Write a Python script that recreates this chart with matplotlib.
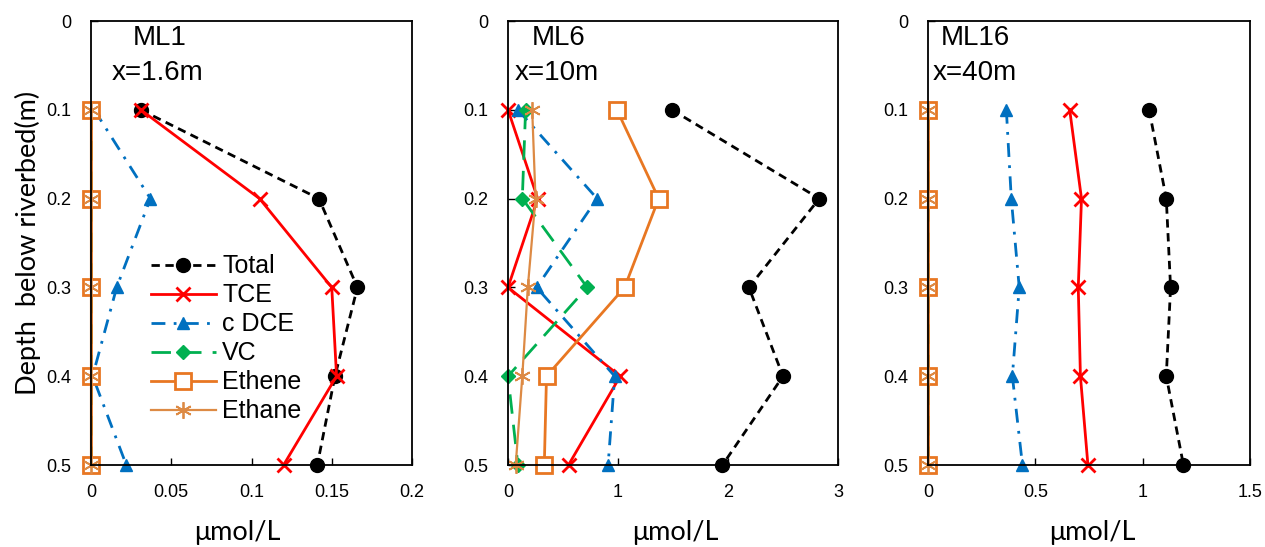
import numpy as np
import matplotlib
matplotlib.use('Agg')
import matplotlib.pyplot as plt

plt.rcParams['font.family'] = ['Liberation Sans', 'DejaVu Sans']

depth = [0.1, 0.2, 0.3, 0.4, 0.5]

# ML1, x=1.6m
ml1_total = [0.031, 0.142, 0.166, 0.152, 0.141]
ml1_tce = [0.031, 0.105, 0.150, 0.153, 0.120]
ml1_cdce = [0.002, 0.037, 0.016, 0.001, 0.022]
ml1_vc = [0, 0, 0, 0, 0]
ml1_ethene = [0, 0, 0, 0, 0]
ml1_ethane = [0, 0, 0, 0, 0]

# ML6, x=10m
ml6_total = [1.49, 2.83, 2.19, 2.50, 1.95]
ml6_tce = [0.0, 0.27, 0.0, 1.02, 0.55]
ml6_cdce = [0.09, 0.81, 0.26, 0.97, 0.91]
ml6_vc = [0.16, 0.13, 0.72, 0.0, 0.09]
ml6_ethene = [0.99, 1.37, 1.06, 0.35, 0.33]
ml6_ethane = [0.22, 0.25, 0.18, 0.13, 0.07]

# ML16, x=40m
ml16_total = [1.03, 1.11, 1.13, 1.11, 1.19]
ml16_tce = [0.66, 0.715, 0.70, 0.71, 0.745]
ml16_cdce = [0.365, 0.388, 0.425, 0.393, 0.44]
ml16_vc = [0, 0, 0, 0, 0]
ml16_ethene = [0, 0, 0, 0, 0]
ml16_ethane = [0, 0, 0, 0, 0]

names = ['ML1', 'ML6', 'ML16']
dists = ['x=1.6m', 'x=10m', 'x=40m']
xmax = [0.2, 3, 1.5]
xticks = [[0, 0.05, 0.1, 0.15, 0.2], [0, 1, 2, 3], [0, 0.5, 1, 1.5]]
xticklabels = [['0', '0.05', '0.1', '0.15', '0.2'], ['0', '1', '2', '3'], ['0', '0.5', '1', '1.5']]
yticks = [0, 0.1, 0.2, 0.3, 0.4, 0.5]
yticklabels = ['0', '0.1', '0.2', '0.3', '0.4', '0.5']

data = [
    [ml1_total, ml1_tce, ml1_cdce, ml1_vc, ml1_ethene, ml1_ethane],
    [ml6_total, ml6_tce, ml6_cdce, ml6_vc, ml6_ethene, ml6_ethane],
    [ml16_total, ml16_tce, ml16_cdce, ml16_vc, ml16_ethene, ml16_ethane],
]
labels = ['Total', 'TCE', 'c DCE', 'VC', 'Ethene', 'Ethane']

styles = [
    dict(color='black', ls=(0, (3, 2)), lw=2, marker='o', ms=10, mfc='black', mec='black'),
    dict(color='#FF0000', ls='-', lw=2, marker='x', ms=10, mew=2),
    dict(color='#0070C0', ls=(0, (5, 3, 1, 3)), lw=2, marker='^', ms=9, mfc='#0070C0', mec='#0070C0'),
    dict(color='#00B050', ls=(0, (7, 4)), lw=2, marker='D', ms=7, mfc='#00B050', mec='#00B050'),
    dict(color='#E87722', ls='-', lw=2, marker='s', ms=11, mfc='white', mec='#E87722', mew=2),
    dict(color='#DD8A44', ls='-', lw=1.6, marker=(6, 2, 0), ms=12, mew=1.3),
]

text_pos = [[(0.131, 0.962), (0.065, 0.883)],
            [(0.073, 0.962), (0.021, 0.883)],
            [(0.04, 0.962), (0.016, 0.883)]]
xlabel_x = [0.455, 0.506, 0.51]

fig = plt.figure(figsize=(12.65, 5.47), dpi=100)
lefts = [91, 508, 928]
rights = [412, 838, 1250]
top, bottom = 21, 465

for i in range(3):
    ax = fig.add_axes([lefts[i] / 1265, 1 - bottom / 547,
                       (rights[i] - lefts[i]) / 1265, (bottom - top) / 547])
    for j in range(6):
        ax.plot(data[i][j], depth, label=labels[j], clip_on=False, **styles[j])
    ax.set_xlim(0, xmax[i])
    ax.set_ylim(0.5, 0)
    ax.set_xticks(xticks[i])
    ax.set_xticklabels(xticklabels[i])
    ax.set_yticks(yticks)
    ax.set_yticklabels(yticklabels)
    ax.tick_params(direction='in', length=5, width=1, labelsize=13, pad=14)
    for sp in ax.spines.values():
        sp.set_linewidth(1.3)
    ax.set_xlabel('μmol/L', fontsize=19.5, family='Lato', va='center')
    ax.xaxis.set_label_coords(xlabel_x[i], -0.153)
    ax.text(text_pos[i][0][0], text_pos[i][0][1], names[i], transform=ax.transAxes,
            fontsize=20, ha='left', va='center')
    ax.text(text_pos[i][1][0], text_pos[i][1][1], dists[i], transform=ax.transAxes,
            fontsize=20, ha='left', va='center')
    if i == 0:
        ax.set_ylabel('Depth  below riverbed(m)', fontsize=19.5, family='Lato', labelpad=4)
        ax.legend(loc='upper left', bbox_to_anchor=(0.155, 0.497), frameon=False,
                  fontsize=18, handlelength=2.6, labelspacing=0.2, borderaxespad=0,
                  handletextpad=0.25)

fig.savefig('out.png', dpi=100)
